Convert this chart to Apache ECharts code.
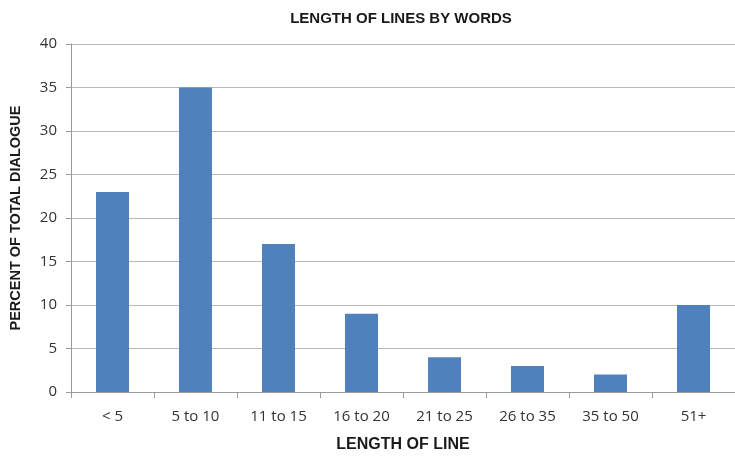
<!DOCTYPE html>
<html>
<head>
<meta charset="utf-8">
<script src="https://cdn.jsdelivr.net/npm/echarts@6/dist/echarts.min.js"></script>
<style>
  html, body { margin: 0; padding: 0; background: #fff; }
  #chart { width: 735px; height: 463px; }
</style>
</head>
<body>
<div id="chart"></div>
<script>
// Line-length buckets (words per line) and share of dialogue in each
const categories = ['< 5', '5 to 10', '11 to 15', '16 to 20', '21 to 25', '26 to 35', '35 to 50', '51+'];
const percents = [23, 35, 17, 9, 4, 3, 2, 10];
const yTicks = [0, 5, 10, 15, 20, 25, 30, 35, 40];

const labelFont = '"Open Sans", "Liberation Sans", sans-serif';
const headFont = '"Liberation Sans", Arial, sans-serif';

const chart = echarts.init(document.getElementById('chart'), null, { renderer: 'canvas' });
chart.setOption({
  animation: false,
  backgroundColor: '#ffffff',
  title: {
    text: 'LENGTH OF LINES BY WORDS',
    left: 396,
    top: 6,
    textAlign: 'center',
    textStyle: { fontFamily: headFont, fontSize: 15, fontWeight: 'bold', color: '#1a1a1a' }
  },
  grid: { left: 70, top: 44, width: 671, height: 348, containLabel: false },
  xAxis: {
    type: 'category',
    data: categories,
    name: 'LENGTH OF LINE',
    nameLocation: 'middle',
    nameGap: 45,
    nameTextStyle: { fontFamily: headFont, fontSize: 16, fontWeight: 'bold', color: '#1a1a1a' },
    axisLine: { show: true, lineStyle: { color: '#9a9a9a', width: 1 } },
    axisTick: { show: true, alignWithLabel: false, length: 6, lineStyle: { color: '#9a9a9a' } },
    axisLabel: { fontFamily: labelFont, fontSize: 15, color: '#333333', margin: 17 },
    splitLine: { show: false }
  },
  yAxis: {
    type: 'value',
    min: 0,
    max: 40,
    interval: 5,
    name: 'PERCENT OF TOTAL DIALOGUE',
    nameLocation: 'middle',
    nameGap: 48,
    nameRotate: 90,
    nameTextStyle: { fontFamily: headFont, fontSize: 14.5, fontWeight: 'bold', color: '#1a1a1a' },
    axisLine: { show: true, lineStyle: { color: '#9a9a9a', width: 1 } },
    axisTick: { show: true, length: 5, lineStyle: { color: '#9a9a9a' } },
    axisLabel: {
      fontFamily: labelFont, fontSize: 15, color: '#333333', margin: 14,
      formatter: v => (yTicks.includes(v) ? String(v) : '')
    },
    splitLine: { show: true, lineStyle: { color: '#b8b8b8', width: 1 } }
  },
  series: [{
    type: 'bar',
    data: percents,
    barWidth: 33,
    itemStyle: { color: '#4f81bd' }
  }]
});
</script>
</body>
</html>
